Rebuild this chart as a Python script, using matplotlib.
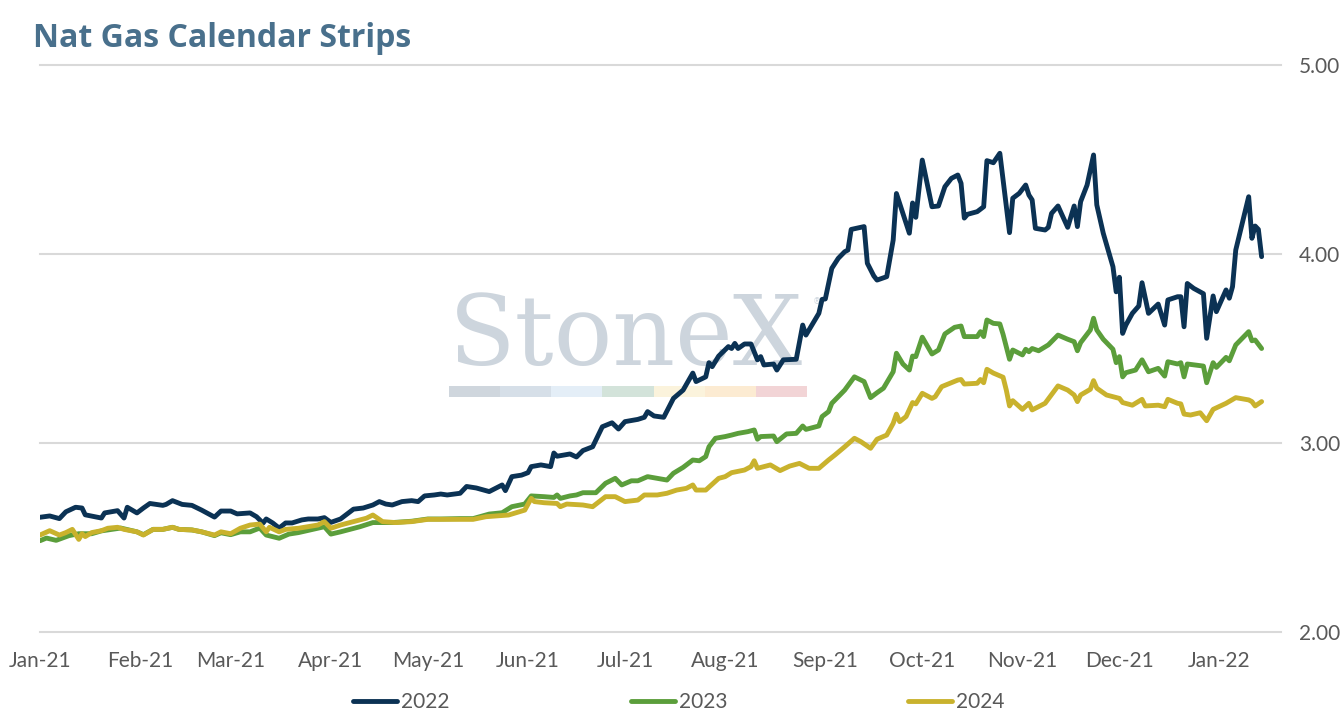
import matplotlib
matplotlib.use("Agg")
import matplotlib.pyplot as plt
import matplotlib.dates as mdates
from matplotlib.patches import Rectangle
from matplotlib.ticker import FormatStrFormatter
import pandas as pd

# values (settle of the calendar strip, $/MMBtu)
dates_2022 = [
    "2021-01-01", "2021-01-04", "2021-01-07", "2021-01-09", "2021-01-12", "2021-01-14",
    "2021-01-15", "2021-01-18", "2021-01-20", "2021-01-21", "2021-01-25", "2021-01-27",
    "2021-01-28", "2021-01-31", "2021-02-02", "2021-02-04", "2021-02-08", "2021-02-09",
    "2021-02-11", "2021-02-14", "2021-02-17", "2021-02-20", "2021-02-24", "2021-02-26",
    "2021-03-01", "2021-03-03", "2021-03-07", "2021-03-09", "2021-03-11", "2021-03-12",
    "2021-03-14", "2021-03-16", "2021-03-18", "2021-03-20", "2021-03-23", "2021-03-25",
    "2021-03-28", "2021-03-30", "2021-04-01", "2021-04-04", "2021-04-06", "2021-04-08",
    "2021-04-11", "2021-04-14", "2021-04-16", "2021-04-18", "2021-04-20", "2021-04-23",
    "2021-04-26", "2021-04-28", "2021-04-30", "2021-05-03", "2021-05-05", "2021-05-07",
    "2021-05-11", "2021-05-13", "2021-05-16", "2021-05-20", "2021-05-24", "2021-05-25",
    "2021-05-27", "2021-05-30", "2021-06-01", "2021-06-02", "2021-06-05", "2021-06-08",
    "2021-06-09", "2021-06-10", "2021-06-14", "2021-06-16", "2021-06-18", "2021-06-21",
    "2021-06-24", "2021-06-27", "2021-06-29", "2021-07-01", "2021-07-05", "2021-07-07",
    "2021-07-08", "2021-07-10", "2021-07-13", "2021-07-16", "2021-07-19", "2021-07-22",
    "2021-07-23", "2021-07-26", "2021-07-27", "2021-07-28", "2021-07-30", "2021-08-02",
    "2021-08-03", "2021-08-04", "2021-08-05", "2021-08-07", "2021-08-09", "2021-08-11",
    "2021-08-12", "2021-08-13", "2021-08-16", "2021-08-17", "2021-08-19", "2021-08-23",
    "2021-08-25", "2021-08-26", "2021-08-30", "2021-08-31", "2021-09-01", "2021-09-03",
    "2021-09-05", "2021-09-07", "2021-09-08", "2021-09-09", "2021-09-13", "2021-09-14",
    "2021-09-16", "2021-09-17", "2021-09-20", "2021-09-22", "2021-09-23", "2021-09-27",
    "2021-09-28", "2021-09-29", "2021-10-01", "2021-10-04", "2021-10-06", "2021-10-08",
    "2021-10-10", "2021-10-12", "2021-10-13", "2021-10-14", "2021-10-15", "2021-10-18",
    "2021-10-20", "2021-10-21", "2021-10-23", "2021-10-25", "2021-10-28", "2021-10-29",
    "2021-10-31", "2021-11-02", "2021-11-03", "2021-11-04", "2021-11-05", "2021-11-08",
    "2021-11-09", "2021-11-10", "2021-11-12", "2021-11-15", "2021-11-17", "2021-11-18",
    "2021-11-19", "2021-11-21", "2021-11-23", "2021-11-24", "2021-11-26", "2021-11-29",
    "2021-11-30", "2021-12-01", "2021-12-02", "2021-12-03", "2021-12-05", "2021-12-07",
    "2021-12-08", "2021-12-10", "2021-12-13", "2021-12-15", "2021-12-16", "2021-12-19",
    "2021-12-20", "2021-12-21", "2021-12-22", "2021-12-24", "2021-12-27", "2021-12-28",
    "2021-12-30", "2021-12-31", "2022-01-03", "2022-01-04", "2022-01-05", "2022-01-06",
    "2022-01-10", "2022-01-11", "2022-01-12", "2022-01-13", "2022-01-14",
]
strip_2022 = [
    2.607, 2.614, 2.600, 2.636, 2.660, 2.656,
    2.620, 2.610, 2.603, 2.630, 2.642, 2.603,
    2.660, 2.630, 2.656, 2.680, 2.670, 2.675,
    2.695, 2.675, 2.670, 2.645, 2.608, 2.640,
    2.640, 2.625, 2.630, 2.610, 2.576, 2.598,
    2.577, 2.550, 2.577, 2.577, 2.593, 2.598,
    2.598, 2.605, 2.580, 2.598, 2.624, 2.650,
    2.656, 2.672, 2.690, 2.677, 2.672, 2.690,
    2.695, 2.690, 2.720, 2.725, 2.730, 2.725,
    2.734, 2.770, 2.762, 2.743, 2.778, 2.748,
    2.822, 2.830, 2.843, 2.875, 2.884, 2.875,
    2.947, 2.930, 2.942, 2.926, 2.960, 2.980,
    3.086, 3.107, 3.074, 3.113, 3.125, 3.136,
    3.166, 3.143, 3.136, 3.236, 3.280, 3.370,
    3.325, 3.350, 3.425, 3.404, 3.460, 3.510,
    3.500, 3.527, 3.500, 3.524, 3.524, 3.440,
    3.457, 3.413, 3.418, 3.386, 3.440, 3.443,
    3.624, 3.571, 3.686, 3.760, 3.762, 3.924,
    3.977, 4.012, 4.021, 4.130, 4.145, 3.951,
    3.884, 3.862, 3.880, 4.074, 4.320, 4.110,
    4.270, 4.194, 4.497, 4.250, 4.254, 4.356,
    4.400, 4.418, 4.374, 4.190, 4.210, 4.224,
    4.250, 4.494, 4.483, 4.533, 4.113, 4.295,
    4.321, 4.365, 4.312, 4.286, 4.136, 4.127,
    4.141, 4.215, 4.254, 4.141, 4.254, 4.145,
    4.277, 4.365, 4.524, 4.260, 4.110, 3.933,
    3.800, 3.877, 3.580, 3.624, 3.686, 3.725,
    3.848, 3.686, 3.735, 3.624, 3.757, 3.774,
    3.774, 3.615, 3.844, 3.818, 3.790, 3.554,
    3.778, 3.695, 3.810, 3.766, 3.827, 4.021,
    4.303, 4.083, 4.148, 4.130, 3.986,
]

dates_2023 = [
    "2021-01-01", "2021-01-03", "2021-01-06", "2021-01-10", "2021-01-13", "2021-01-17",
    "2021-01-20", "2021-01-26", "2021-01-31", "2021-02-02", "2021-02-05", "2021-02-08",
    "2021-02-11", "2021-02-13", "2021-02-17", "2021-02-20", "2021-02-24", "2021-02-26",
    "2021-03-01", "2021-03-04", "2021-03-07", "2021-03-10", "2021-03-12", "2021-03-16",
    "2021-03-19", "2021-03-22", "2021-03-30", "2021-04-01", "2021-04-04", "2021-04-10",
    "2021-04-14", "2021-04-20", "2021-04-26", "2021-05-01", "2021-05-05", "2021-05-11",
    "2021-05-15", "2021-05-20", "2021-05-24", "2021-05-27", "2021-05-31", "2021-06-02",
    "2021-06-06", "2021-06-09", "2021-06-10", "2021-06-11", "2021-06-14", "2021-06-16",
    "2021-06-18", "2021-06-22", "2021-06-25", "2021-06-28", "2021-06-30", "2021-07-03",
    "2021-07-05", "2021-07-08", "2021-07-11", "2021-07-14", "2021-07-16", "2021-07-19",
    "2021-07-22", "2021-07-24", "2021-07-26", "2021-07-27", "2021-07-29", "2021-08-01",
    "2021-08-03", "2021-08-05", "2021-08-08", "2021-08-10", "2021-08-11", "2021-08-12",
    "2021-08-16", "2021-08-17", "2021-08-20", "2021-08-23", "2021-08-25", "2021-08-26",
    "2021-08-30", "2021-08-31", "2021-09-02", "2021-09-03", "2021-09-07", "2021-09-10",
    "2021-09-13", "2021-09-15", "2021-09-17", "2021-09-19", "2021-09-22", "2021-09-23",
    "2021-09-25", "2021-09-27", "2021-09-28", "2021-09-29", "2021-10-01", "2021-10-04",
    "2021-10-06", "2021-10-08", "2021-10-11", "2021-10-13", "2021-10-14", "2021-10-18",
    "2021-10-19", "2021-10-20", "2021-10-21", "2021-10-23", "2021-10-25", "2021-10-26",
    "2021-10-28", "2021-10-29", "2021-11-01", "2021-11-02", "2021-11-03", "2021-11-04",
    "2021-11-06", "2021-11-09", "2021-11-12", "2021-11-15", "2021-11-17", "2021-11-18",
    "2021-11-19", "2021-11-22", "2021-11-23", "2021-11-24", "2021-11-26", "2021-11-29",
    "2021-11-30", "2021-12-01", "2021-12-02", "2021-12-03", "2021-12-06", "2021-12-08",
    "2021-12-10", "2021-12-13", "2021-12-15", "2021-12-16", "2021-12-19", "2021-12-20",
    "2021-12-21", "2021-12-22", "2021-12-27", "2021-12-28", "2021-12-30", "2021-12-31",
    "2022-01-03", "2022-01-04", "2022-01-06", "2022-01-10", "2022-01-11", "2022-01-12",
    "2022-01-14",
]
strip_2023 = [
    2.483, 2.497, 2.485, 2.510, 2.520, 2.520,
    2.535, 2.550, 2.530, 2.515, 2.543, 2.543,
    2.554, 2.543, 2.540, 2.530, 2.510, 2.525,
    2.515, 2.530, 2.530, 2.550, 2.513, 2.496,
    2.518, 2.526, 2.557, 2.518, 2.530, 2.557,
    2.579, 2.579, 2.586, 2.598, 2.598, 2.600,
    2.600, 2.624, 2.631, 2.663, 2.677, 2.720,
    2.716, 2.712, 2.725, 2.707, 2.720, 2.725,
    2.737, 2.737, 2.787, 2.813, 2.778, 2.800,
    2.800, 2.822, 2.813, 2.804, 2.840, 2.871,
    2.910, 2.906, 2.928, 2.980, 3.025, 3.034,
    3.042, 3.051, 3.060, 3.069, 3.020, 3.034,
    3.037, 3.007, 3.048, 3.051, 3.090, 3.072,
    3.090, 3.140, 3.166, 3.210, 3.280, 3.350,
    3.325, 3.240, 3.266, 3.290, 3.377, 3.475,
    3.418, 3.386, 3.460, 3.457, 3.560, 3.471,
    3.492, 3.577, 3.612, 3.619, 3.563, 3.563,
    3.589, 3.563, 3.651, 3.633, 3.630, 3.575,
    3.443, 3.492, 3.466, 3.496, 3.483, 3.500,
    3.488, 3.519, 3.571, 3.549, 3.536, 3.488,
    3.531, 3.598, 3.660, 3.598, 3.549, 3.496,
    3.425, 3.457, 3.350, 3.372, 3.386, 3.440,
    3.377, 3.395, 3.354, 3.430, 3.418, 3.425,
    3.350, 3.418, 3.407, 3.319, 3.425, 3.400,
    3.453, 3.435, 3.519, 3.589, 3.541, 3.545,
    3.500,
]

dates_2024 = [
    "2021-01-01", "2021-01-04", "2021-01-07", "2021-01-09", "2021-01-11", "2021-01-13",
    "2021-01-14", "2021-01-15", "2021-01-17", "2021-01-20", "2021-01-22", "2021-01-25",
    "2021-01-27", "2021-01-31", "2021-02-02", "2021-02-05", "2021-02-08", "2021-02-11",
    "2021-02-13", "2021-02-17", "2021-02-20", "2021-02-24", "2021-02-26", "2021-03-01",
    "2021-03-04", "2021-03-07", "2021-03-10", "2021-03-12", "2021-03-13", "2021-03-16",
    "2021-03-18", "2021-03-22", "2021-03-28", "2021-03-30", "2021-04-01", "2021-04-04",
    "2021-04-08", "2021-04-12", "2021-04-14", "2021-04-17", "2021-04-21", "2021-04-26",
    "2021-05-01", "2021-05-05", "2021-05-11", "2021-05-15", "2021-05-19", "2021-05-26",
    "2021-05-31", "2021-06-02", "2021-06-03", "2021-06-06", "2021-06-10", "2021-06-11",
    "2021-06-13", "2021-06-18", "2021-06-21", "2021-06-25", "2021-06-28", "2021-07-01",
    "2021-07-05", "2021-07-07", "2021-07-11", "2021-07-14", "2021-07-17", "2021-07-20",
    "2021-07-22", "2021-07-23", "2021-07-26", "2021-07-30", "2021-08-01", "2021-08-03",
    "2021-08-07", "2021-08-09", "2021-08-10", "2021-08-11", "2021-08-15", "2021-08-18",
    "2021-08-21", "2021-08-24", "2021-08-27", "2021-08-30", "2021-09-02", "2021-09-04",
    "2021-09-07", "2021-09-10", "2021-09-12", "2021-09-15", "2021-09-17", "2021-09-20",
    "2021-09-22", "2021-09-23", "2021-09-24", "2021-09-26", "2021-09-28", "2021-09-29",
    "2021-10-01", "2021-10-04", "2021-10-05", "2021-10-07", "2021-10-12", "2021-10-13",
    "2021-10-14", "2021-10-18", "2021-10-19", "2021-10-20", "2021-10-21", "2021-10-23",
    "2021-10-26", "2021-10-27", "2021-10-28", "2021-10-29", "2021-11-01", "2021-11-03",
    "2021-11-04", "2021-11-08", "2021-11-12", "2021-11-15", "2021-11-17", "2021-11-18",
    "2021-11-19", "2021-11-22", "2021-11-23", "2021-11-24", "2021-11-27", "2021-12-01",
    "2021-12-02", "2021-12-05", "2021-12-08", "2021-12-09", "2021-12-13", "2021-12-15",
    "2021-12-16", "2021-12-19", "2021-12-20", "2021-12-21", "2021-12-23", "2021-12-26",
    "2021-12-28", "2021-12-30", "2022-01-03", "2022-01-06", "2022-01-10", "2022-01-11",
    "2022-01-12", "2022-01-14",
]
strip_2024 = [
    2.513, 2.536, 2.513, 2.526, 2.543, 2.490,
    2.520, 2.505, 2.526, 2.536, 2.549, 2.554,
    2.543, 2.530, 2.513, 2.543, 2.543, 2.554,
    2.543, 2.540, 2.530, 2.513, 2.530, 2.520,
    2.549, 2.566, 2.571, 2.530, 2.554, 2.530,
    2.543, 2.549, 2.566, 2.584, 2.549, 2.566,
    2.584, 2.602, 2.619, 2.584, 2.579, 2.584,
    2.596, 2.596, 2.596, 2.596, 2.610, 2.619,
    2.645, 2.707, 2.690, 2.684, 2.680, 2.663,
    2.677, 2.672, 2.663, 2.716, 2.716, 2.690,
    2.698, 2.725, 2.725, 2.734, 2.751, 2.760,
    2.778, 2.751, 2.751, 2.813, 2.822, 2.843,
    2.857, 2.875, 2.906, 2.866, 2.884, 2.854,
    2.878, 2.892, 2.866, 2.866, 2.910, 2.937,
    2.980, 3.025, 3.007, 2.972, 3.020, 3.042,
    3.104, 3.153, 3.113, 3.140, 3.214, 3.207,
    3.263, 3.236, 3.245, 3.298, 3.333, 3.336,
    3.312, 3.316, 3.336, 3.319, 3.390, 3.370,
    3.348, 3.280, 3.196, 3.224, 3.178, 3.210,
    3.175, 3.210, 3.302, 3.280, 3.254, 3.219,
    3.254, 3.284, 3.330, 3.290, 3.254, 3.236,
    3.214, 3.200, 3.231, 3.196, 3.200, 3.192,
    3.231, 3.210, 3.207, 3.153, 3.148, 3.160,
    3.118, 3.178, 3.210, 3.240, 3.228, 3.219,
    3.196, 3.219,
]

series_labels = ["2022", "2023", "2024"]
series_colors = ["#0b3254", "#5b9e3b", "#c9b22d"]
y_ticks = [2.0, 3.0, 4.0, 5.0]

TEXT_GREY = "#595959"

plt.rcParams["font.family"] = ["Lato", "DejaVu Sans"]

fig = plt.figure(figsize=(13.44, 7.24), dpi=100)
ax = fig.add_axes([40 / 1344, 1 - 632 / 724, 1241 / 1344, 567 / 724])

all_dates = [dates_2022, dates_2023, dates_2024]
all_vals = [strip_2022, strip_2023, strip_2024]
for d, v, c, lab in zip(all_dates, all_vals, series_colors, series_labels):
    ax.plot(pd.to_datetime(d), v, color=c, lw=3.5, label=lab,
            solid_joinstyle="round", solid_capstyle="round", zorder=3)

ax.set_xlim(pd.Timestamp("2021-01-01"), pd.Timestamp("2022-01-20"))
ax.set_ylim(2.0, 5.0)
ax.set_yticks(y_ticks)
ax.yaxis.set_major_formatter(FormatStrFormatter("%.2f"))
ax.yaxis.tick_right()
ax.xaxis.set_major_locator(mdates.MonthLocator())
ax.xaxis.set_major_formatter(mdates.DateFormatter("%b-%y"))

ax.grid(axis="y", color="#d9d9d9", lw=1.5, clip_on=False)
ax.set_axisbelow(True)
for s in ax.spines.values():
    s.set_visible(False)
ax.tick_params(axis="both", length=0, labelsize=15, colors=TEXT_GREY)
ax.tick_params(axis="x", pad=14)
ax.tick_params(axis="y", pad=13)

# faint StoneX watermark with the colour strip under it
ax.text(409 / 1241, 0.471, "StoneX", transform=ax.transAxes, family="DejaVu Serif",
        fontsize=70, color="#cdd5dd", ha="left", va="baseline", zorder=1)
ax.text(0.623, 0.578, "\u00ae", transform=ax.transAxes, family="DejaVu Sans",
        fontsize=6, color="#cdd5dd", ha="left", va="baseline", zorder=1)
strip_cols = ["#cfd6dd", "#d6dfe8", "#e4eef7", "#d3e3da", "#fbf3dc", "#fcebd2", "#f2d4d6"]
seg_w = 358 / 7 / 1241
for i, c in enumerate(strip_cols):
    ax.add_patch(Rectangle((409 / 1241 + i * seg_w, 235 / 567), seg_w, 11 / 567,
                           transform=ax.transAxes, color=c, lw=0, zorder=1))

fig.text(33 / 1344, 1 - 47 / 724, "Nat Gas Calendar Strips", fontsize=23,
         family=["Open Sans", "DejaVu Sans"], fontweight="bold", color="#49708c",
         ha="left", va="baseline")

fig.legend(loc="center", bbox_to_anchor=(679 / 1344, 1 - 702 / 724), ncol=3,
           frameon=False, fontsize=15, labelcolor=TEXT_GREY, handlelength=2.1,
           handletextpad=0.2, columnspacing=8.7)

fig.savefig("out.png", dpi=100)
